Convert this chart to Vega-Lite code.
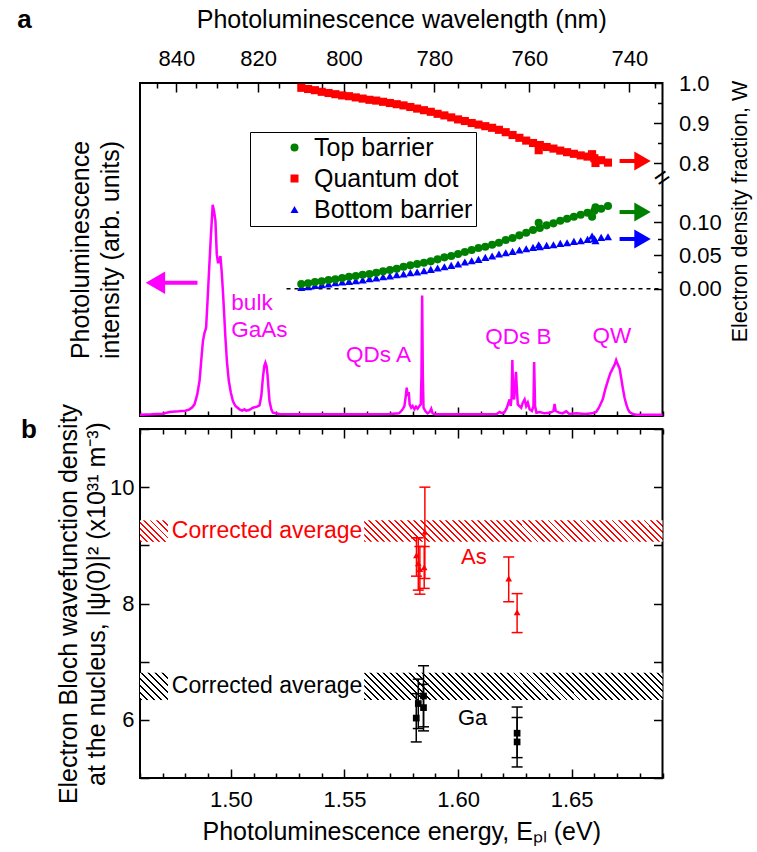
{
"$schema":"https://vega.github.io/schema/vega-lite/v6.json",
"background":"white",
"padding":{"left":16,"top":6,"right":2,"bottom":2},
"config":{"font":"Liberation Sans","view":{"stroke":"black","strokeWidth":2},
"axis":{"domain":false,"grid":false,"labelFont":"Liberation Sans","titleFont":"Liberation Sans","labelFontSize":22,"titleFontSize":25,"titleFontWeight":"normal","labelColor":"black","titleColor":"black","tickColor":"black","tickWidth":1.5}},
"datasets":{
"spec":[{"E":1.46,"I":0.004},{"E":1.465,"I":0.005},{"E":1.47,"I":0.007},{"E":1.473,"I":0.012},{"E":1.477,"I":0.014},{"E":1.48,"I":0.016},{"E":1.4818,"I":0.02},{"E":1.483,"I":0.026},{"E":1.484,"I":0.035},{"E":1.4852,"I":0.065},{"E":1.4862,"I":0.105},{"E":1.487,"I":0.17},{"E":1.4877,"I":0.225},{"E":1.4884,"I":0.25},{"E":1.4891,"I":0.265},{"E":1.4898,"I":0.355},{"E":1.4905,"I":0.45},{"E":1.4912,"I":0.54},{"E":1.492,"I":0.634},{"E":1.4926,"I":0.615},{"E":1.4932,"I":0.586},{"E":1.4938,"I":0.486},{"E":1.4943,"I":0.462},{"E":1.4947,"I":0.462},{"E":1.4954,"I":0.48},{"E":1.496,"I":0.43},{"E":1.4965,"I":0.375},{"E":1.4971,"I":0.3},{"E":1.4976,"I":0.235},{"E":1.4983,"I":0.16},{"E":1.4991,"I":0.105},{"E":1.5,"I":0.07},{"E":1.5009,"I":0.045},{"E":1.502,"I":0.03},{"E":1.5038,"I":0.02},{"E":1.505,"I":0.016},{"E":1.506,"I":0.02},{"E":1.5067,"I":0.016},{"E":1.508,"I":0.018},{"E":1.5097,"I":0.025},{"E":1.5115,"I":0.028},{"E":1.5126,"I":0.032},{"E":1.5134,"I":0.06},{"E":1.5141,"I":0.115},{"E":1.5147,"I":0.15},{"E":1.5152,"I":0.16},{"E":1.5157,"I":0.15},{"E":1.5161,"I":0.126},{"E":1.5166,"I":0.08},{"E":1.517,"I":0.045},{"E":1.5178,"I":0.02},{"E":1.5185,"I":0.01},{"E":1.5214,"I":0.006},{"E":1.53,"I":0.005},{"E":1.54,"I":0.005},{"E":1.55,"I":0.005},{"E":1.56,"I":0.005},{"E":1.57,"I":0.006},{"E":1.574,"I":0.008},{"E":1.575,"I":0.015},{"E":1.5758,"I":0.022},{"E":1.5764,"I":0.03},{"E":1.577,"I":0.06},{"E":1.5774,"I":0.085},{"E":1.5778,"I":0.06},{"E":1.5783,"I":0.072},{"E":1.5787,"I":0.035},{"E":1.5794,"I":0.025},{"E":1.58,"I":0.03},{"E":1.5808,"I":0.02},{"E":1.5815,"I":0.028},{"E":1.5822,"I":0.022},{"E":1.583,"I":0.03},{"E":1.5836,"I":0.035},{"E":1.5839,"I":0.12},{"E":1.5842,"I":0.362},{"E":1.5845,"I":0.12},{"E":1.5848,"I":0.025},{"E":1.5856,"I":0.015},{"E":1.5866,"I":0.008},{"E":1.5875,"I":0.012},{"E":1.5882,"I":0.022},{"E":1.5888,"I":0.008},{"E":1.59,"I":0.005},{"E":1.6,"I":0.005},{"E":1.61,"I":0.005},{"E":1.617,"I":0.006},{"E":1.6183,"I":0.012},{"E":1.6195,"I":0.008},{"E":1.6205,"I":0.012},{"E":1.6215,"I":0.025},{"E":1.6222,"I":0.04},{"E":1.6227,"I":0.05},{"E":1.6232,"I":0.03},{"E":1.6236,"I":0.06},{"E":1.6239,"I":0.168},{"E":1.6243,"I":0.06},{"E":1.6247,"I":0.05},{"E":1.6251,"I":0.09},{"E":1.6255,"I":0.133},{"E":1.6259,"I":0.08},{"E":1.6263,"I":0.035},{"E":1.627,"I":0.03},{"E":1.6278,"I":0.025},{"E":1.6285,"I":0.04},{"E":1.6293,"I":0.05},{"E":1.63,"I":0.03},{"E":1.6307,"I":0.04},{"E":1.6315,"I":0.02},{"E":1.6325,"I":0.015},{"E":1.6332,"I":0.03},{"E":1.6335,"I":0.162},{"E":1.6339,"I":0.03},{"E":1.6345,"I":0.01},{"E":1.636,"I":0.012},{"E":1.638,"I":0.008},{"E":1.6405,"I":0.01},{"E":1.642,"I":0.015},{"E":1.6425,"I":0.036},{"E":1.643,"I":0.015},{"E":1.6445,"I":0.01},{"E":1.646,"I":0.008},{"E":1.6476,"I":0.014},{"E":1.649,"I":0.006},{"E":1.652,"I":0.008},{"E":1.656,"I":0.006},{"E":1.659,"I":0.008},{"E":1.6608,"I":0.012},{"E":1.662,"I":0.025},{"E":1.663,"I":0.04},{"E":1.6637,"I":0.05},{"E":1.6648,"I":0.08},{"E":1.6659,"I":0.105},{"E":1.667,"I":0.128},{"E":1.6681,"I":0.143},{"E":1.669,"I":0.155},{"E":1.6696,"I":0.168},{"E":1.6703,"I":0.155},{"E":1.6711,"I":0.143},{"E":1.6718,"I":0.115},{"E":1.6725,"I":0.085},{"E":1.6733,"I":0.055},{"E":1.674,"I":0.036},{"E":1.6748,"I":0.02},{"E":1.6755,"I":0.012},{"E":1.677,"I":0.006},{"E":1.6784,"I":0.004},{"E":1.685,"I":0.004},{"E":1.69,"I":0.004}],
"W":[{"E":1.531,"Top barrier":0.007,"Quantum dot":0.988,"Bottom barrier":0.002},{"E":1.534,"Top barrier":0.008,"Quantum dot":0.985,"Bottom barrier":0.003},{"E":1.537,"Top barrier":0.010,"Quantum dot":0.982,"Bottom barrier":0.005},{"E":1.540,"Top barrier":0.011,"Quantum dot":0.978,"Bottom barrier":0.006},{"E":1.543,"Top barrier":0.013,"Quantum dot":0.975,"Bottom barrier":0.007},{"E":1.546,"Top barrier":0.014,"Quantum dot":0.972,"Bottom barrier":0.009},{"E":1.549,"Top barrier":0.016,"Quantum dot":0.969,"Bottom barrier":0.010},{"E":1.552,"Top barrier":0.018,"Quantum dot":0.967,"Bottom barrier":0.011},{"E":1.555,"Top barrier":0.019,"Quantum dot":0.964,"Bottom barrier":0.012},{"E":1.558,"Top barrier":0.021,"Quantum dot":0.961,"Bottom barrier":0.013},{"E":1.561,"Top barrier":0.022,"Quantum dot":0.958,"Bottom barrier":0.015},{"E":1.564,"Top barrier":0.024,"Quantum dot":0.956,"Bottom barrier":0.016},{"E":1.567,"Top barrier":0.026,"Quantum dot":0.953,"Bottom barrier":0.018},{"E":1.570,"Top barrier":0.028,"Quantum dot":0.950,"Bottom barrier":0.019},{"E":1.573,"Top barrier":0.030,"Quantum dot":0.947,"Bottom barrier":0.021},{"E":1.576,"Top barrier":0.033,"Quantum dot":0.944,"Bottom barrier":0.022},{"E":1.579,"Top barrier":0.035,"Quantum dot":0.940,"Bottom barrier":0.024},{"E":1.582,"Top barrier":0.037,"Quantum dot":0.936,"Bottom barrier":0.025},{"E":1.585,"Top barrier":0.039,"Quantum dot":0.932,"Bottom barrier":0.027},{"E":1.588,"Top barrier":0.041,"Quantum dot":0.928,"Bottom barrier":0.029},{"E":1.591,"Top barrier":0.044,"Quantum dot":0.923,"Bottom barrier":0.031},{"E":1.594,"Top barrier":0.047,"Quantum dot":0.919,"Bottom barrier":0.033},{"E":1.597,"Top barrier":0.049,"Quantum dot":0.914,"Bottom barrier":0.035},{"E":1.600,"Top barrier":0.052,"Quantum dot":0.909,"Bottom barrier":0.037},{"E":1.603,"Top barrier":0.055,"Quantum dot":0.905,"Bottom barrier":0.040},{"E":1.606,"Top barrier":0.058,"Quantum dot":0.900,"Bottom barrier":0.042},{"E":1.609,"Top barrier":0.061,"Quantum dot":0.896,"Bottom barrier":0.044},{"E":1.612,"Top barrier":0.063,"Quantum dot":0.892,"Bottom barrier":0.047},{"E":1.615,"Top barrier":0.066,"Quantum dot":0.888,"Bottom barrier":0.049},{"E":1.618,"Top barrier":0.069,"Quantum dot":0.883,"Bottom barrier":0.052},{"E":1.621,"Top barrier":0.073,"Quantum dot":0.877,"Bottom barrier":0.054},{"E":1.624,"Top barrier":0.076,"Quantum dot":0.870,"Bottom barrier":0.056},{"E":1.627,"Top barrier":0.080,"Quantum dot":0.863,"Bottom barrier":0.058},{"E":1.630,"Top barrier":0.084,"Quantum dot":0.856,"Bottom barrier":0.060},{"E":1.633,"Top barrier":0.088,"Quantum dot":0.850,"Bottom barrier":0.062},{"E":1.636,"Top barrier":0.091,"Quantum dot":0.845,"Bottom barrier":0.063},{"E":1.639,"Top barrier":0.095,"Quantum dot":0.840,"Bottom barrier":0.065},{"E":1.642,"Top barrier":0.098,"Quantum dot":0.836,"Bottom barrier":0.066},{"E":1.645,"Top barrier":0.102,"Quantum dot":0.831,"Bottom barrier":0.068},{"E":1.648,"Top barrier":0.105,"Quantum dot":0.827,"Bottom barrier":0.069},{"E":1.651,"Top barrier":0.108,"Quantum dot":0.823,"Bottom barrier":0.071},{"E":1.654,"Top barrier":0.111,"Quantum dot":0.819,"Bottom barrier":0.072},{"E":1.657,"Top barrier":0.114,"Quantum dot":0.816,"Bottom barrier":0.074},{"E":1.660,"Top barrier":0.117,"Quantum dot":0.812,"Bottom barrier":0.075},{"E":1.663,"Top barrier":0.120,"Quantum dot":0.807,"Bottom barrier":0.077},{"E":1.666,"Top barrier":0.124,"Quantum dot":0.801,"Bottom barrier":0.078},{"E":1.6355,"Top barrier":0.099,"Quantum dot":0.832,"Bottom barrier":0.066},{"E":1.659,"Top barrier":0.108,"Quantum dot":0.822,"Bottom barrier":0.079},{"E":1.6605,"Top barrier":0.122,"Quantum dot":0.800,"Bottom barrier":0.072}],
"arrPL":[{"x1":1.4695,"x2":1.4853,"hx":1.4668,"I":0.40}],
"notes":[{"t":"bulk","E":1.5093,"I":0.340},{"t":"GaAs","E":1.5126,"I":0.258},{"t":"QDs A","E":1.565,"I":0.183},{"t":"QDs B","E":1.6266,"I":0.237},{"t":"QW","E":1.6677,"I":0.240}],
"arrQ":[{"series":"Quantum dot","x1":1.6711,"x2":1.679,"hx":1.6812,"W":0.805}],
"arrB":[{"series":"Top barrier","x1":1.6711,"x2":1.679,"hx":1.6812,"W":0.115},{"series":"Bottom barrier","x1":1.6711,"x2":1.679,"hx":1.6812,"W":0.0746}],
"zero":[{"x1":1.5245,"x2":1.69,"W":0}],
"brk":[{"E":1.69,"W":0.166}],
"one":[{"E":1.5,"v":8}],
"labA":[{"t":"a","E":1.4092,"I":1.165}],
"labB":[{"t":"b","E":1.4111,"v":10.845}],
"bands":[{"el":"As","side":"L","x1":1.46,"x2":1.4723,"lo":9.06,"hi":9.43},{"el":"As","side":"R","x1":1.5587,"x2":1.69,"lo":9.06,"hi":9.43},{"el":"Ga","side":"L","x1":1.46,"x2":1.4723,"lo":6.34,"hi":6.81},{"el":"Ga","side":"R","x1":1.5587,"x2":1.69,"lo":6.34,"hi":6.81}],
"corr":[{"el":"As","t":"Corrected average","E":1.474,"v":9.245},{"el":"Ga","t":"Corrected average","E":1.474,"v":6.575}],
"pts":[{"el":"As","E":1.5817,"v":8.83,"lo":8.47,"hi":9.13},{"el":"As","E":1.5825,"v":8.69,"lo":8.23,"hi":9.13},{"el":"As","E":1.5832,"v":8.59,"lo":8.16,"hi":8.98},{"el":"As","E":1.5851,"v":8.62,"lo":8.26,"hi":8.98},{"el":"As","E":1.5854,"v":9.23,"lo":8.43,"hi":10.0},{"el":"As","E":1.6223,"v":8.43,"lo":8.03,"hi":8.80},{"el":"As","E":1.626,"v":7.85,"lo":7.50,"hi":8.17},{"el":"Ga","E":1.5816,"v":6.03,"lo":5.62,"hi":6.45},{"el":"Ga","E":1.5825,"v":6.28,"lo":5.85,"hi":6.70},{"el":"Ga","E":1.5848,"v":6.41,"lo":5.88,"hi":6.93},{"el":"Ga","E":1.5848,"v":6.21,"lo":5.81,"hi":6.61},{"el":"Ga","E":1.626,"v":5.77,"lo":5.35,"hi":6.22},{"el":"Ga","E":1.626,"v":5.62,"lo":5.19,"hi":6.04}],
"lbl":[{"el":"As","E":1.607,"v":8.80},{"el":"Ga","E":1.6064,"v":6.03}]
},
"resolve":{"scale":{"color":"independent","shape":"independent"}},
"spacing":13,
"bounds":"flush",
"vconcat":[
{
"width":522.5,"height":333,
"resolve":{"scale":{"y":"independent"},"axis":{"x":"independent","y":"independent"}},
"layer":[
 {"data":{"name":"spec"},"mark":{"type":"line","color":"#ff00ff","strokeWidth":2.5},
  "encoding":{"x":{"field":"E","type":"quantitative","scale":{"domain":[1.46,1.69],"nice":false,"zero":false},"axis":{"orient":"bottom","values":[1.5,1.55,1.6,1.65],"labels":false,"tickSize":9,"offset":-9,"title":null}},
   "y":{"field":"I","type":"quantitative","scale":{"domain":[0,1],"nice":false,"zero":false},"axis":{"orient":"left","title":["Photoluminescence","intensity (arb. units)"],"ticks":false,"labels":false,"titlePadding":17,"titleLineHeight":30}}}},
 {"data":{"name":"labA"},"mark":{"type":"text","fontSize":26,"fontWeight":"bold","color":"black","baseline":"alphabetic","align":"center","font":"Liberation Sans"},
  "encoding":{"x":{"field":"E","type":"quantitative","scale":{"domain":[1.46,1.69],"nice":false,"zero":false},"axis":null},"y":{"field":"I","type":"quantitative","scale":{"domain":[0,1],"nice":false,"zero":false},"axis":null},"text":{"field":"t"}}},
 {"data":{"name":"arrPL"},"mark":{"type":"rule","color":"#ff00ff","strokeWidth":4},
  "encoding":{"x":{"field":"x1","type":"quantitative","scale":{"domain":[1.46,1.69],"nice":false,"zero":false},"axis":null},"x2":{"field":"x2"},"y":{"field":"I","type":"quantitative","scale":{"domain":[0,1],"nice":false,"zero":false},"axis":null}}},
 {"data":{"name":"arrPL"},"mark":{"type":"point","shape":"triangle-left","filled":true,"color":"#ff00ff","opacity":1,"size":500},
  "encoding":{"x":{"field":"hx","type":"quantitative","scale":{"domain":[1.46,1.69],"nice":false,"zero":false},"axis":null},"y":{"field":"I","type":"quantitative","scale":{"domain":[0,1],"nice":false,"zero":false},"axis":null}}},
 {"data":{"name":"notes"},"mark":{"type":"text","color":"#ff00ff","fontSize":22.5,"font":"Liberation Sans"},
  "encoding":{"x":{"field":"E","type":"quantitative","scale":{"domain":[1.46,1.69],"nice":false,"zero":false},"axis":null},"y":{"field":"I","type":"quantitative","scale":{"domain":[0,1],"nice":false,"zero":false},"axis":null},"text":{"field":"t"}}},
 {"data":{"name":"arrQ"},"mark":{"type":"rule","strokeWidth":4},
  "encoding":{"x":{"field":"x1","type":"quantitative","scale":{"domain":[1.46,1.69],"nice":false,"zero":false},"axis":null},"x2":{"field":"x2"},
   "y":{"field":"W","type":"quantitative","scale":{"domain":[0.1675,1.0],"nice":false,"zero":false},"axis":{"orient":"right","values":[0.85,0.95],"labels":false,"tickSize":5,"offset":-5,"title":null}},
   "color":{"field":"series","type":"nominal","scale":{"domain":["Top barrier","Quantum dot","Bottom barrier"],"range":["#008000","#ff0000","#0000ff"]}}}},
 {"data":{"name":"arrQ"},"mark":{"type":"point","shape":"triangle-right","filled":true,"opacity":1,"size":361},
  "encoding":{"x":{"field":"hx","type":"quantitative","scale":{"domain":[1.46,1.69],"nice":false,"zero":false},"axis":null},
   "y":{"field":"W","type":"quantitative","scale":{"domain":[0.1675,1.0],"nice":false,"zero":false},"axis":null},
   "color":{"field":"series","type":"nominal","scale":{"domain":["Top barrier","Quantum dot","Bottom barrier"],"range":["#008000","#ff0000","#0000ff"]}}}},
 {"data":{"name":"W"},"mark":{"type":"point","filled":true,"opacity":1,"size":66},
  "encoding":{"x":{"field":"E","type":"quantitative","scale":{"domain":[1.46,1.69],"nice":false,"zero":false},"axis":null},
   "y":{"field":"Quantum dot","type":"quantitative","scale":{"domain":[0.1675,1.0],"nice":false,"zero":false},"axis":{"orient":"right","values":[0.8,0.9,1.0],"format":".1f","tickSize":9,"offset":-9,"labelPadding":16,"title":null}},
   "color":{"datum":"Quantum dot","type":"nominal","scale":{"domain":["Top barrier","Quantum dot","Bottom barrier"],"range":["#008000","#ff0000","#0000ff"]}},
   "shape":{"datum":"Quantum dot","type":"nominal","scale":{"domain":["Top barrier","Quantum dot","Bottom barrier"],"range":["circle","square","triangle-up"]}}}},
 {"data":{"name":"zero"},"mark":{"type":"rule","color":"black","strokeWidth":1.5,"strokeDash":[4,4]},
  "encoding":{"x":{"field":"x1","type":"quantitative","scale":{"domain":[1.46,1.69],"nice":false,"zero":false},"axis":null},"x2":{"field":"x2"},
   "y":{"field":"W","type":"quantitative","scale":{"domain":[-0.191,0.3086],"nice":false,"zero":false},"axis":{"orient":"right","values":[0.025,0.075,0.125],"labels":false,"tickSize":5,"offset":-5,"title":null}}}},
 {"data":{"name":"W"},"transform":[{"fold":["Bottom barrier","Top barrier"],"as":["series","W"]}],
  "mark":{"type":"point","filled":true,"opacity":1,"size":66},
  "encoding":{"x":{"field":"E","type":"quantitative","scale":{"domain":[1.46,1.69],"nice":false,"zero":false},"axis":null},
   "y":{"field":"W","type":"quantitative","scale":{"domain":[-0.191,0.3086],"nice":false,"zero":false},"axis":{"orient":"right","values":[0,0.05,0.1],"format":".2f","tickSize":9,"offset":-9,"labelPadding":16,"title":"Electron density fraction, W","titleFontSize":21.5,"titleAngle":-90,"titlePadding":30,"titleY":128}},
   "color":{"field":"series","type":"nominal","scale":{"domain":["Top barrier","Quantum dot","Bottom barrier"],"range":["#008000","#ff0000","#0000ff"]},
    "legend":{"title":null,"orient":"none","legendX":110,"legendY":49,"padding":3,"strokeColor":"black","fillColor":"white","labelFont":"Liberation Sans","labelFontSize":25,"labelColor":"black","symbolSize":64,"symbolOffset":29,"labelOffset":7,"rowPadding":5,"symbolStrokeWidth":0}},
   "shape":{"field":"series","type":"nominal","scale":{"domain":["Top barrier","Quantum dot","Bottom barrier"],"range":["circle","square","triangle-up"]},
    "legend":{"title":null,"orient":"none","legendX":110,"legendY":49,"padding":3,"strokeColor":"black","fillColor":"white","labelFont":"Liberation Sans","labelFontSize":25,"labelColor":"black","symbolSize":64,"symbolOffset":29,"labelOffset":7,"rowPadding":5,"symbolStrokeWidth":0}}}},
 {"data":{"name":"arrB"},"mark":{"type":"rule","strokeWidth":4},
  "encoding":{"x":{"field":"x1","type":"quantitative","scale":{"domain":[1.46,1.69],"nice":false,"zero":false},"axis":null},"x2":{"field":"x2"},
   "y":{"field":"W","type":"quantitative","scale":{"domain":[-0.191,0.3086],"nice":false,"zero":false},"axis":null},
   "color":{"field":"series","type":"nominal","scale":{"domain":["Top barrier","Quantum dot","Bottom barrier"],"range":["#008000","#ff0000","#0000ff"]}}}},
 {"data":{"name":"arrB"},"mark":{"type":"point","shape":"triangle-right","filled":true,"opacity":1,"size":361},
  "encoding":{"x":{"field":"hx","type":"quantitative","scale":{"domain":[1.46,1.69],"nice":false,"zero":false},"axis":null},
   "y":{"field":"W","type":"quantitative","scale":{"domain":[-0.191,0.3086],"nice":false,"zero":false},"axis":null},
   "color":{"field":"series","type":"nominal","scale":{"domain":["Top barrier","Quantum dot","Bottom barrier"],"range":["#008000","#ff0000","#0000ff"]}}}},
 {"data":{"name":"brk"},"mark":{"type":"text","text":"=","fontSize":26,"angle":-35,"color":"black","baseline":"middle","align":"center"},
  "encoding":{"x":{"field":"E","type":"quantitative","scale":{"domain":[1.46,1.69],"nice":false,"zero":false},"axis":null},
   "y":{"field":"W","type":"quantitative","scale":{"domain":[-0.191,0.3086],"nice":false,"zero":false},"axis":null}}},
 {"data":{"name":"one"},"mark":{"type":"point","opacity":0},
  "encoding":{"x":{"field":"E","type":"quantitative","scale":{"domain":[1.46,1.69],"nice":false,"zero":false},"axis":{"orient":"bottom","values":[1.46,1.47,1.48,1.49,1.51,1.52,1.53,1.54,1.56,1.57,1.58,1.59,1.61,1.62,1.63,1.64,1.66,1.67,1.68,1.69],"labels":false,"tickSize":5,"offset":-5,"title":null}},
   "y":{"field":"v","type":"quantitative","scale":{"domain":[5,11],"nice":false,"zero":false},"axis":null}}},
 {"data":{"name":"one"},"mark":{"type":"point","opacity":0},
  "encoding":{"x":{"field":"E","type":"quantitative","scale":{"domain":[1.46,1.69],"nice":false,"zero":false},"axis":{"orient":"top","values":[1.476,1.512,1.5498,1.58954,1.63137,1.67546],"labelExpr":"format(1239.84/datum.value,'.0f')","tickSize":9,"offset":-9,"labelPadding":13,"title":"Photoluminescence wavelength (nm)","titlePadding":15}},
   "y":{"field":"v","type":"quantitative","scale":{"domain":[5,11],"nice":false,"zero":false},"axis":null}}},
 {"data":{"name":"one"},"mark":{"type":"point","opacity":0},
  "encoding":{"x":{"field":"E","type":"quantitative","scale":{"domain":[1.46,1.69],"nice":false,"zero":false},"axis":{"orient":"top","values":[1.46727,1.48484,1.49378,1.50284,1.52128,1.53067,1.54018,1.55955,1.56942,1.57942,1.59979,1.61018,1.62071,1.64217,1.65312,1.66422,1.68686],"labels":false,"tickSize":5,"offset":-5,"title":null}},
   "y":{"field":"v","type":"quantitative","scale":{"domain":[5,11],"nice":false,"zero":false},"axis":null}}}
]
},
{
"width":522.5,"height":349,
"resolve":{"axis":{"x":"independent","y":"independent"}},
"layer":[
{"data":{"name":"bands"},"transform":[{"filter":"datum.el=='As' && datum.side=='R'"}],
 "mark":{"type":"rect","strokeWidth":0,"fill":{"gradient":"linear","x1":0,"y1":1,"x2":1.0666,"y2":0.9231,"stops":[
{"offset":0,"color":"red"},{"offset":0.006,"color":"red"},{"offset":0.006,"color":"#fff"},{"offset":0.02,"color":"#fff"},
{"offset":0.02,"color":"red"},{"offset":0.026,"color":"red"},{"offset":0.026,"color":"#fff"},{"offset":0.04,"color":"#fff"},
{"offset":0.04,"color":"red"},{"offset":0.046,"color":"red"},{"offset":0.046,"color":"#fff"},{"offset":0.06,"color":"#fff"},
{"offset":0.06,"color":"red"},{"offset":0.066,"color":"red"},{"offset":0.066,"color":"#fff"},{"offset":0.08,"color":"#fff"},
{"offset":0.08,"color":"red"},{"offset":0.086,"color":"red"},{"offset":0.086,"color":"#fff"},{"offset":0.1,"color":"#fff"},
{"offset":0.1,"color":"red"},{"offset":0.106,"color":"red"},{"offset":0.106,"color":"#fff"},{"offset":0.12,"color":"#fff"},
{"offset":0.12,"color":"red"},{"offset":0.126,"color":"red"},{"offset":0.126,"color":"#fff"},{"offset":0.14,"color":"#fff"},
{"offset":0.14,"color":"red"},{"offset":0.146,"color":"red"},{"offset":0.146,"color":"#fff"},{"offset":0.16,"color":"#fff"},
{"offset":0.16,"color":"red"},{"offset":0.166,"color":"red"},{"offset":0.166,"color":"#fff"},{"offset":0.18,"color":"#fff"},
{"offset":0.18,"color":"red"},{"offset":0.186,"color":"red"},{"offset":0.186,"color":"#fff"},{"offset":0.2,"color":"#fff"},
{"offset":0.2,"color":"red"},{"offset":0.206,"color":"red"},{"offset":0.206,"color":"#fff"},{"offset":0.22,"color":"#fff"},
{"offset":0.22,"color":"red"},{"offset":0.226,"color":"red"},{"offset":0.226,"color":"#fff"},{"offset":0.24,"color":"#fff"},
{"offset":0.24,"color":"red"},{"offset":0.246,"color":"red"},{"offset":0.246,"color":"#fff"},{"offset":0.26,"color":"#fff"},
{"offset":0.26,"color":"red"},{"offset":0.266,"color":"red"},{"offset":0.266,"color":"#fff"},{"offset":0.28,"color":"#fff"},
{"offset":0.28,"color":"red"},{"offset":0.286,"color":"red"},{"offset":0.286,"color":"#fff"},{"offset":0.3,"color":"#fff"},
{"offset":0.3,"color":"red"},{"offset":0.306,"color":"red"},{"offset":0.306,"color":"#fff"},{"offset":0.32,"color":"#fff"},
{"offset":0.32,"color":"red"},{"offset":0.326,"color":"red"},{"offset":0.326,"color":"#fff"},{"offset":0.34,"color":"#fff"},
{"offset":0.34,"color":"red"},{"offset":0.346,"color":"red"},{"offset":0.346,"color":"#fff"},{"offset":0.36,"color":"#fff"},
{"offset":0.36,"color":"red"},{"offset":0.366,"color":"red"},{"offset":0.366,"color":"#fff"},{"offset":0.38,"color":"#fff"},
{"offset":0.38,"color":"red"},{"offset":0.386,"color":"red"},{"offset":0.386,"color":"#fff"},{"offset":0.4,"color":"#fff"},
{"offset":0.4,"color":"red"},{"offset":0.406,"color":"red"},{"offset":0.406,"color":"#fff"},{"offset":0.42,"color":"#fff"},
{"offset":0.42,"color":"red"},{"offset":0.426,"color":"red"},{"offset":0.426,"color":"#fff"},{"offset":0.44,"color":"#fff"},
{"offset":0.44,"color":"red"},{"offset":0.446,"color":"red"},{"offset":0.446,"color":"#fff"},{"offset":0.46,"color":"#fff"},
{"offset":0.46,"color":"red"},{"offset":0.466,"color":"red"},{"offset":0.466,"color":"#fff"},{"offset":0.48,"color":"#fff"},
{"offset":0.48,"color":"red"},{"offset":0.486,"color":"red"},{"offset":0.486,"color":"#fff"},{"offset":0.5,"color":"#fff"},
{"offset":0.5,"color":"red"},{"offset":0.506,"color":"red"},{"offset":0.506,"color":"#fff"},{"offset":0.52,"color":"#fff"},
{"offset":0.52,"color":"red"},{"offset":0.526,"color":"red"},{"offset":0.526,"color":"#fff"},{"offset":0.54,"color":"#fff"},
{"offset":0.54,"color":"red"},{"offset":0.546,"color":"red"},{"offset":0.546,"color":"#fff"},{"offset":0.56,"color":"#fff"},
{"offset":0.56,"color":"red"},{"offset":0.566,"color":"red"},{"offset":0.566,"color":"#fff"},{"offset":0.58,"color":"#fff"},
{"offset":0.58,"color":"red"},{"offset":0.586,"color":"red"},{"offset":0.586,"color":"#fff"},{"offset":0.6,"color":"#fff"},
{"offset":0.6,"color":"red"},{"offset":0.606,"color":"red"},{"offset":0.606,"color":"#fff"},{"offset":0.62,"color":"#fff"},
{"offset":0.62,"color":"red"},{"offset":0.626,"color":"red"},{"offset":0.626,"color":"#fff"},{"offset":0.64,"color":"#fff"},
{"offset":0.64,"color":"red"},{"offset":0.646,"color":"red"},{"offset":0.646,"color":"#fff"},{"offset":0.66,"color":"#fff"},
{"offset":0.66,"color":"red"},{"offset":0.666,"color":"red"},{"offset":0.666,"color":"#fff"},{"offset":0.68,"color":"#fff"},
{"offset":0.68,"color":"red"},{"offset":0.686,"color":"red"},{"offset":0.686,"color":"#fff"},{"offset":0.7,"color":"#fff"},
{"offset":0.7,"color":"red"},{"offset":0.706,"color":"red"},{"offset":0.706,"color":"#fff"},{"offset":0.72,"color":"#fff"},
{"offset":0.72,"color":"red"},{"offset":0.726,"color":"red"},{"offset":0.726,"color":"#fff"},{"offset":0.74,"color":"#fff"},
{"offset":0.74,"color":"red"},{"offset":0.746,"color":"red"},{"offset":0.746,"color":"#fff"},{"offset":0.76,"color":"#fff"},
{"offset":0.76,"color":"red"},{"offset":0.766,"color":"red"},{"offset":0.766,"color":"#fff"},{"offset":0.78,"color":"#fff"},
{"offset":0.78,"color":"red"},{"offset":0.786,"color":"red"},{"offset":0.786,"color":"#fff"},{"offset":0.8,"color":"#fff"},
{"offset":0.8,"color":"red"},{"offset":0.806,"color":"red"},{"offset":0.806,"color":"#fff"},{"offset":0.82,"color":"#fff"},
{"offset":0.82,"color":"red"},{"offset":0.826,"color":"red"},{"offset":0.826,"color":"#fff"},{"offset":0.84,"color":"#fff"},
{"offset":0.84,"color":"red"},{"offset":0.846,"color":"red"},{"offset":0.846,"color":"#fff"},{"offset":0.86,"color":"#fff"},
{"offset":0.86,"color":"red"},{"offset":0.866,"color":"red"},{"offset":0.866,"color":"#fff"},{"offset":0.88,"color":"#fff"},
{"offset":0.88,"color":"red"},{"offset":0.886,"color":"red"},{"offset":0.886,"color":"#fff"},{"offset":0.9,"color":"#fff"},
{"offset":0.9,"color":"red"},{"offset":0.906,"color":"red"},{"offset":0.906,"color":"#fff"},{"offset":0.92,"color":"#fff"},
{"offset":0.92,"color":"red"},{"offset":0.926,"color":"red"},{"offset":0.926,"color":"#fff"},{"offset":0.94,"color":"#fff"},
{"offset":0.94,"color":"red"},{"offset":0.946,"color":"red"},{"offset":0.946,"color":"#fff"},{"offset":0.96,"color":"#fff"},
{"offset":0.96,"color":"red"},{"offset":0.966,"color":"red"},{"offset":0.966,"color":"#fff"},{"offset":0.98,"color":"#fff"},
{"offset":0.98,"color":"red"},{"offset":0.986,"color":"red"},{"offset":0.986,"color":"#fff"},{"offset":1,"color":"#fff"}]}},
 "encoding":{"x":{"field":"x1","type":"quantitative","scale":{"domain":[1.46,1.69],"nice":false,"zero":false},"axis":null},"x2":{"field":"x2"},"y":{"field":"lo","type":"quantitative","scale":{"domain":[5,11],"nice":false,"zero":false},"axis":null},"y2":{"field":"hi"}}},
{"data":{"name":"bands"},"transform":[{"filter":"datum.el=='Ga' && datum.side=='R'"}],
 "mark":{"type":"rect","strokeWidth":0,"fill":{"gradient":"linear","x1":0,"y1":1,"x2":1.0824,"y2":0.901,"stops":[
{"offset":0,"color":"#000"},{"offset":0.006,"color":"#000"},{"offset":0.006,"color":"#fff"},{"offset":0.02,"color":"#fff"},
{"offset":0.02,"color":"#000"},{"offset":0.026,"color":"#000"},{"offset":0.026,"color":"#fff"},{"offset":0.04,"color":"#fff"},
{"offset":0.04,"color":"#000"},{"offset":0.046,"color":"#000"},{"offset":0.046,"color":"#fff"},{"offset":0.06,"color":"#fff"},
{"offset":0.06,"color":"#000"},{"offset":0.066,"color":"#000"},{"offset":0.066,"color":"#fff"},{"offset":0.08,"color":"#fff"},
{"offset":0.08,"color":"#000"},{"offset":0.086,"color":"#000"},{"offset":0.086,"color":"#fff"},{"offset":0.1,"color":"#fff"},
{"offset":0.1,"color":"#000"},{"offset":0.106,"color":"#000"},{"offset":0.106,"color":"#fff"},{"offset":0.12,"color":"#fff"},
{"offset":0.12,"color":"#000"},{"offset":0.126,"color":"#000"},{"offset":0.126,"color":"#fff"},{"offset":0.14,"color":"#fff"},
{"offset":0.14,"color":"#000"},{"offset":0.146,"color":"#000"},{"offset":0.146,"color":"#fff"},{"offset":0.16,"color":"#fff"},
{"offset":0.16,"color":"#000"},{"offset":0.166,"color":"#000"},{"offset":0.166,"color":"#fff"},{"offset":0.18,"color":"#fff"},
{"offset":0.18,"color":"#000"},{"offset":0.186,"color":"#000"},{"offset":0.186,"color":"#fff"},{"offset":0.2,"color":"#fff"},
{"offset":0.2,"color":"#000"},{"offset":0.206,"color":"#000"},{"offset":0.206,"color":"#fff"},{"offset":0.22,"color":"#fff"},
{"offset":0.22,"color":"#000"},{"offset":0.226,"color":"#000"},{"offset":0.226,"color":"#fff"},{"offset":0.24,"color":"#fff"},
{"offset":0.24,"color":"#000"},{"offset":0.246,"color":"#000"},{"offset":0.246,"color":"#fff"},{"offset":0.26,"color":"#fff"},
{"offset":0.26,"color":"#000"},{"offset":0.266,"color":"#000"},{"offset":0.266,"color":"#fff"},{"offset":0.28,"color":"#fff"},
{"offset":0.28,"color":"#000"},{"offset":0.286,"color":"#000"},{"offset":0.286,"color":"#fff"},{"offset":0.3,"color":"#fff"},
{"offset":0.3,"color":"#000"},{"offset":0.306,"color":"#000"},{"offset":0.306,"color":"#fff"},{"offset":0.32,"color":"#fff"},
{"offset":0.32,"color":"#000"},{"offset":0.326,"color":"#000"},{"offset":0.326,"color":"#fff"},{"offset":0.34,"color":"#fff"},
{"offset":0.34,"color":"#000"},{"offset":0.346,"color":"#000"},{"offset":0.346,"color":"#fff"},{"offset":0.36,"color":"#fff"},
{"offset":0.36,"color":"#000"},{"offset":0.366,"color":"#000"},{"offset":0.366,"color":"#fff"},{"offset":0.38,"color":"#fff"},
{"offset":0.38,"color":"#000"},{"offset":0.386,"color":"#000"},{"offset":0.386,"color":"#fff"},{"offset":0.4,"color":"#fff"},
{"offset":0.4,"color":"#000"},{"offset":0.406,"color":"#000"},{"offset":0.406,"color":"#fff"},{"offset":0.42,"color":"#fff"},
{"offset":0.42,"color":"#000"},{"offset":0.426,"color":"#000"},{"offset":0.426,"color":"#fff"},{"offset":0.44,"color":"#fff"},
{"offset":0.44,"color":"#000"},{"offset":0.446,"color":"#000"},{"offset":0.446,"color":"#fff"},{"offset":0.46,"color":"#fff"},
{"offset":0.46,"color":"#000"},{"offset":0.466,"color":"#000"},{"offset":0.466,"color":"#fff"},{"offset":0.48,"color":"#fff"},
{"offset":0.48,"color":"#000"},{"offset":0.486,"color":"#000"},{"offset":0.486,"color":"#fff"},{"offset":0.5,"color":"#fff"},
{"offset":0.5,"color":"#000"},{"offset":0.506,"color":"#000"},{"offset":0.506,"color":"#fff"},{"offset":0.52,"color":"#fff"},
{"offset":0.52,"color":"#000"},{"offset":0.526,"color":"#000"},{"offset":0.526,"color":"#fff"},{"offset":0.54,"color":"#fff"},
{"offset":0.54,"color":"#000"},{"offset":0.546,"color":"#000"},{"offset":0.546,"color":"#fff"},{"offset":0.56,"color":"#fff"},
{"offset":0.56,"color":"#000"},{"offset":0.566,"color":"#000"},{"offset":0.566,"color":"#fff"},{"offset":0.58,"color":"#fff"},
{"offset":0.58,"color":"#000"},{"offset":0.586,"color":"#000"},{"offset":0.586,"color":"#fff"},{"offset":0.6,"color":"#fff"},
{"offset":0.6,"color":"#000"},{"offset":0.606,"color":"#000"},{"offset":0.606,"color":"#fff"},{"offset":0.62,"color":"#fff"},
{"offset":0.62,"color":"#000"},{"offset":0.626,"color":"#000"},{"offset":0.626,"color":"#fff"},{"offset":0.64,"color":"#fff"},
{"offset":0.64,"color":"#000"},{"offset":0.646,"color":"#000"},{"offset":0.646,"color":"#fff"},{"offset":0.66,"color":"#fff"},
{"offset":0.66,"color":"#000"},{"offset":0.666,"color":"#000"},{"offset":0.666,"color":"#fff"},{"offset":0.68,"color":"#fff"},
{"offset":0.68,"color":"#000"},{"offset":0.686,"color":"#000"},{"offset":0.686,"color":"#fff"},{"offset":0.7,"color":"#fff"},
{"offset":0.7,"color":"#000"},{"offset":0.706,"color":"#000"},{"offset":0.706,"color":"#fff"},{"offset":0.72,"color":"#fff"},
{"offset":0.72,"color":"#000"},{"offset":0.726,"color":"#000"},{"offset":0.726,"color":"#fff"},{"offset":0.74,"color":"#fff"},
{"offset":0.74,"color":"#000"},{"offset":0.746,"color":"#000"},{"offset":0.746,"color":"#fff"},{"offset":0.76,"color":"#fff"},
{"offset":0.76,"color":"#000"},{"offset":0.766,"color":"#000"},{"offset":0.766,"color":"#fff"},{"offset":0.78,"color":"#fff"},
{"offset":0.78,"color":"#000"},{"offset":0.786,"color":"#000"},{"offset":0.786,"color":"#fff"},{"offset":0.8,"color":"#fff"},
{"offset":0.8,"color":"#000"},{"offset":0.806,"color":"#000"},{"offset":0.806,"color":"#fff"},{"offset":0.82,"color":"#fff"},
{"offset":0.82,"color":"#000"},{"offset":0.826,"color":"#000"},{"offset":0.826,"color":"#fff"},{"offset":0.84,"color":"#fff"},
{"offset":0.84,"color":"#000"},{"offset":0.846,"color":"#000"},{"offset":0.846,"color":"#fff"},{"offset":0.86,"color":"#fff"},
{"offset":0.86,"color":"#000"},{"offset":0.866,"color":"#000"},{"offset":0.866,"color":"#fff"},{"offset":0.88,"color":"#fff"},
{"offset":0.88,"color":"#000"},{"offset":0.886,"color":"#000"},{"offset":0.886,"color":"#fff"},{"offset":0.9,"color":"#fff"},
{"offset":0.9,"color":"#000"},{"offset":0.906,"color":"#000"},{"offset":0.906,"color":"#fff"},{"offset":0.92,"color":"#fff"},
{"offset":0.92,"color":"#000"},{"offset":0.926,"color":"#000"},{"offset":0.926,"color":"#fff"},{"offset":0.94,"color":"#fff"},
{"offset":0.94,"color":"#000"},{"offset":0.946,"color":"#000"},{"offset":0.946,"color":"#fff"},{"offset":0.96,"color":"#fff"},
{"offset":0.96,"color":"#000"},{"offset":0.966,"color":"#000"},{"offset":0.966,"color":"#fff"},{"offset":0.98,"color":"#fff"},
{"offset":0.98,"color":"#000"},{"offset":0.986,"color":"#000"},{"offset":0.986,"color":"#fff"},{"offset":1,"color":"#fff"}]}},
 "encoding":{"x":{"field":"x1","type":"quantitative","scale":{"domain":[1.46,1.69],"nice":false,"zero":false},"axis":null},"x2":{"field":"x2"},"y":{"field":"lo","type":"quantitative","scale":{"domain":[5,11],"nice":false,"zero":false},"axis":null},"y2":{"field":"hi"}}},
{"data":{"name":"bands"},"transform":[{"filter":"datum.el=='As' && datum.side=='L'"}],
 "mark":{"type":"rect","strokeWidth":0,"fill":{"gradient":"linear","x1":0,"y1":1,"x2":1.1121,"y2":0.1459,"stops":[
{"offset":0,"color":"red"},{"offset":0.0375,"color":"red"},{"offset":0.0375,"color":"#fff"},{"offset":0.125,"color":"#fff"},
{"offset":0.125,"color":"red"},{"offset":0.1625,"color":"red"},{"offset":0.1625,"color":"#fff"},{"offset":0.25,"color":"#fff"},
{"offset":0.25,"color":"red"},{"offset":0.2875,"color":"red"},{"offset":0.2875,"color":"#fff"},{"offset":0.375,"color":"#fff"},
{"offset":0.375,"color":"red"},{"offset":0.4125,"color":"red"},{"offset":0.4125,"color":"#fff"},{"offset":0.5,"color":"#fff"},
{"offset":0.5,"color":"red"},{"offset":0.5375,"color":"red"},{"offset":0.5375,"color":"#fff"},{"offset":0.625,"color":"#fff"},
{"offset":0.625,"color":"red"},{"offset":0.6625,"color":"red"},{"offset":0.6625,"color":"#fff"},{"offset":0.75,"color":"#fff"},
{"offset":0.75,"color":"red"},{"offset":0.7875,"color":"red"},{"offset":0.7875,"color":"#fff"},{"offset":0.875,"color":"#fff"},
{"offset":0.875,"color":"red"},{"offset":0.9125,"color":"red"},{"offset":0.9125,"color":"#fff"},{"offset":1,"color":"#fff"}]}},
 "encoding":{"x":{"field":"x1","type":"quantitative","scale":{"domain":[1.46,1.69],"nice":false,"zero":false},"axis":null},"x2":{"field":"x2"},"y":{"field":"lo","type":"quantitative","scale":{"domain":[5,11],"nice":false,"zero":false},"axis":null},"y2":{"field":"hi"}}},
{"data":{"name":"bands"},"transform":[{"filter":"datum.el=='Ga' && datum.side=='L'"}],
 "mark":{"type":"rect","strokeWidth":0,"fill":{"gradient":"linear","x1":0,"y1":1,"x2":1.0125,"y2":0.0128,"stops":[
{"offset":0,"color":"#000"},{"offset":0.0375,"color":"#000"},{"offset":0.0375,"color":"#fff"},{"offset":0.125,"color":"#fff"},
{"offset":0.125,"color":"#000"},{"offset":0.1625,"color":"#000"},{"offset":0.1625,"color":"#fff"},{"offset":0.25,"color":"#fff"},
{"offset":0.25,"color":"#000"},{"offset":0.2875,"color":"#000"},{"offset":0.2875,"color":"#fff"},{"offset":0.375,"color":"#fff"},
{"offset":0.375,"color":"#000"},{"offset":0.4125,"color":"#000"},{"offset":0.4125,"color":"#fff"},{"offset":0.5,"color":"#fff"},
{"offset":0.5,"color":"#000"},{"offset":0.5375,"color":"#000"},{"offset":0.5375,"color":"#fff"},{"offset":0.625,"color":"#fff"},
{"offset":0.625,"color":"#000"},{"offset":0.6625,"color":"#000"},{"offset":0.6625,"color":"#fff"},{"offset":0.75,"color":"#fff"},
{"offset":0.75,"color":"#000"},{"offset":0.7875,"color":"#000"},{"offset":0.7875,"color":"#fff"},{"offset":0.875,"color":"#fff"},
{"offset":0.875,"color":"#000"},{"offset":0.9125,"color":"#000"},{"offset":0.9125,"color":"#fff"},{"offset":1,"color":"#fff"}]}},
 "encoding":{"x":{"field":"x1","type":"quantitative","scale":{"domain":[1.46,1.69],"nice":false,"zero":false},"axis":null},"x2":{"field":"x2"},"y":{"field":"lo","type":"quantitative","scale":{"domain":[5,11],"nice":false,"zero":false},"axis":null},"y2":{"field":"hi"}}},
{"data":{"name":"labB"},"mark":{"type":"text","fontSize":26,"fontWeight":"bold","color":"black","baseline":"alphabetic","align":"center","font":"Liberation Sans"},
 "encoding":{"x":{"field":"E","type":"quantitative","scale":{"domain":[1.46,1.69],"nice":false,"zero":false},"axis":null},"y":{"field":"v","type":"quantitative","scale":{"domain":[5,11],"nice":false,"zero":false},"axis":null},"text":{"field":"t"}}},
{"data":{"name":"corr"},"mark":{"type":"text","align":"left","baseline":"middle","fontSize":23,"font":"Liberation Sans"},
 "encoding":{"x":{"field":"E","type":"quantitative","scale":{"domain":[1.46,1.69],"nice":false,"zero":false},"axis":null},"y":{"field":"v","type":"quantitative","scale":{"domain":[5,11],"nice":false,"zero":false},"axis":null},"text":{"field":"t"},
  "color":{"field":"el","type":"nominal","scale":{"domain":["As","Ga"],"range":["#ff0000","#000000"]},"legend":null}}},
{"data":{"name":"pts"},"mark":{"type":"rule","strokeWidth":1.5},
 "encoding":{"x":{"field":"E","type":"quantitative","scale":{"domain":[1.46,1.69],"nice":false,"zero":false},"axis":null},"y":{"field":"lo","type":"quantitative","scale":{"domain":[5,11],"nice":false,"zero":false},"axis":null},"y2":{"field":"hi"},
  "color":{"field":"el","type":"nominal","scale":{"domain":["As","Ga"],"range":["#ff0000","#000000"]},"legend":null}}},
{"data":{"name":"pts"},"transform":[{"fold":["lo","hi"],"as":["k","cap"]}],"mark":{"type":"tick","orient":"horizontal","size":11,"thickness":1.5,"opacity":1},
 "encoding":{"x":{"field":"E","type":"quantitative","scale":{"domain":[1.46,1.69],"nice":false,"zero":false},"axis":null},"y":{"field":"cap","type":"quantitative","scale":{"domain":[5,11],"nice":false,"zero":false},"axis":null},
  "color":{"field":"el","type":"nominal","scale":{"domain":["As","Ga"],"range":["#ff0000","#000000"]},"legend":null}}},
{"data":{"name":"pts"},"mark":{"type":"point","filled":true,"opacity":1,"size":45},
 "encoding":{"x":{"field":"E","type":"quantitative","scale":{"domain":[1.46,1.69],"nice":false,"zero":false},"axis":null},"y":{"field":"v","type":"quantitative","scale":{"domain":[5,11],"nice":false,"zero":false},"axis":null},
  "color":{"field":"el","type":"nominal","scale":{"domain":["As","Ga"],"range":["#ff0000","#000000"]},"legend":null},
  "shape":{"field":"el","type":"nominal","scale":{"domain":["As","Ga"],"range":["triangle-up","square"]},"legend":null}}},
{"data":{"name":"lbl"},"mark":{"type":"text","baseline":"middle","fontSize":22,"font":"Liberation Sans"},
 "encoding":{"x":{"field":"E","type":"quantitative","scale":{"domain":[1.46,1.69],"nice":false,"zero":false},"axis":null},"y":{"field":"v","type":"quantitative","scale":{"domain":[5,11],"nice":false,"zero":false},"axis":null},"text":{"field":"el"},
  "color":{"field":"el","type":"nominal","scale":{"domain":["As","Ga"],"range":["#ff0000","#000000"]},"legend":null}}},
{"data":{"name":"one"},"mark":{"type":"point","opacity":0},
 "encoding":{"x":{"field":"E","type":"quantitative","scale":{"domain":[1.46,1.69],"nice":false,"zero":false},"axis":{"orient":"bottom","values":[1.5,1.55,1.6,1.65],"format":".2f","tickSize":9,"offset":-9,"labelPadding":11,"title":"Photoluminescence energy, Eₚₗ (eV)","titlePadding":9}},
  "y":{"field":"v","type":"quantitative","scale":{"domain":[5,11],"nice":false,"zero":false},"axis":{"orient":"left","values":[5,6,7,8,9,10,11],"labelExpr":"datum.value % 2 == 0 ? datum.label : ''","tickSize":9,"offset":-9,"labelPadding":6,"title":["Electron Bloch wavefunction density","at the nucleus, |ψ(0)|² (x10³¹ m⁻³)"],"titlePadding":0,"titleLineHeight":28}}}},
{"data":{"name":"one"},"mark":{"type":"point","opacity":0},
 "encoding":{"x":{"field":"E","type":"quantitative","scale":{"domain":[1.46,1.69],"nice":false,"zero":false},"axis":{"orient":"bottom","values":[1.46,1.47,1.48,1.49,1.51,1.52,1.53,1.54,1.56,1.57,1.58,1.59,1.61,1.62,1.63,1.64,1.66,1.67,1.68,1.69],"labels":false,"tickSize":5,"offset":-5,"title":null}},
  "y":{"field":"v","type":"quantitative","scale":{"domain":[5,11],"nice":false,"zero":false},"axis":{"orient":"right","values":[5,6,7,8,9,10,11],"labels":false,"tickSize":9,"offset":-9,"title":null}}}},
{"data":{"name":"one"},"mark":{"type":"point","opacity":0},
 "encoding":{"x":{"field":"E","type":"quantitative","scale":{"domain":[1.46,1.69],"nice":false,"zero":false},"axis":{"orient":"top","values":[1.5,1.55,1.6,1.65],"labels":false,"tickSize":9,"offset":-9,"title":null}},
  "y":{"field":"v","type":"quantitative","scale":{"domain":[5,11],"nice":false,"zero":false},"axis":null}}},
{"data":{"name":"one"},"mark":{"type":"point","opacity":0},
 "encoding":{"x":{"field":"E","type":"quantitative","scale":{"domain":[1.46,1.69],"nice":false,"zero":false},"axis":{"orient":"top","values":[1.46,1.47,1.48,1.49,1.51,1.52,1.53,1.54,1.56,1.57,1.58,1.59,1.61,1.62,1.63,1.64,1.66,1.67,1.68,1.69],"labels":false,"tickSize":5,"offset":-5,"title":null}},
  "y":{"field":"v","type":"quantitative","scale":{"domain":[5,11],"nice":false,"zero":false},"axis":null}}}
]
}
]
}
